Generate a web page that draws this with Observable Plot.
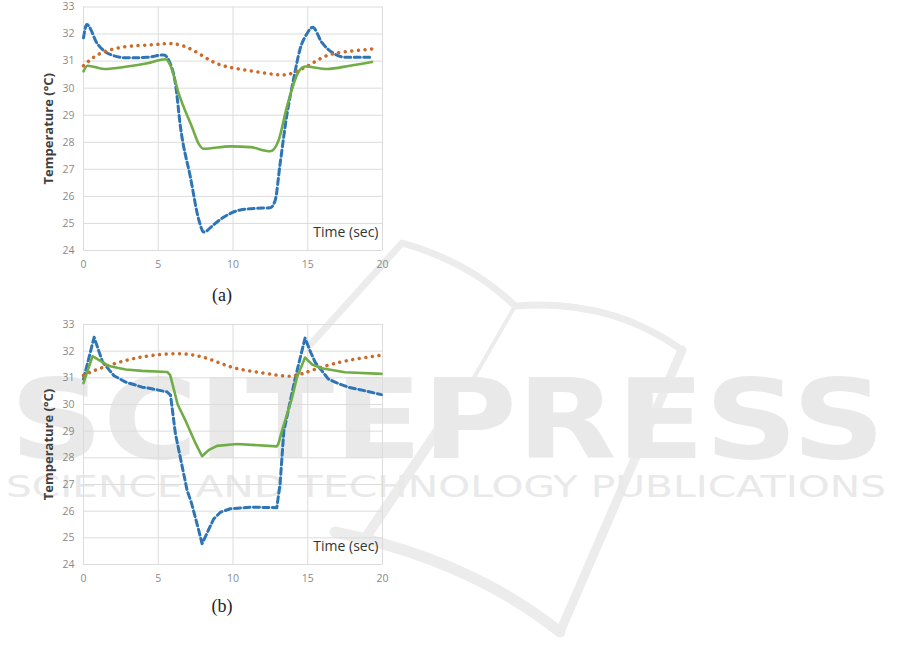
<!DOCTYPE html>
<html>
<head>
<meta charset="utf-8">
<script src="https://cdn.jsdelivr.net/npm/d3@7"></script>
<script src="https://cdn.jsdelivr.net/npm/@observablehq/plot@0.6"></script>
<style>
  html, body { margin: 0; padding: 0; background: #fff; }
  #page { position: relative; width: 901px; height: 668px; overflow: hidden; }
  #wm { position: absolute; left: 0; top: 0; z-index: 0; }
  .chart { position: absolute; left: 0; z-index: 1; }
  .chart svg { background: transparent !important; }
  .chart g[aria-label="y-axis label"] text { font-weight: bold; font-size: 13px; fill: #404040; }
  .cap { position: absolute; z-index: 2; width: 60px; text-align: center; font-family: "Liberation Serif", serif; font-size: 18px; color: #222; }
</style>
</head>
<body>
<div id="page">
  <svg id="wm" width="901" height="668">
    <g fill="none" stroke="#ececec" stroke-linecap="round" stroke-linejoin="round">
      <path d="M310 345 L402 243 Q470 262 515 306 Q610 298 682 350" stroke-width="7"/>
      <path d="M682 350 L560 632" stroke-width="9"/>
      <path d="M560 632 Q470 560 335 532" stroke-width="11"/>
      <path d="M515 306 L468 388" stroke-width="4"/>
      <path d="M445 420 L366 537" stroke-width="10"/>
    </g>
    <text x="10" y="458" textLength="875" lengthAdjust="spacingAndGlyphs" font-family="DejaVu Sans" font-weight="bold" font-size="110" fill="#e9e9e9">SCITEPRESS</text>
    <text x="6" y="497" textLength="880" lengthAdjust="spacingAndGlyphs" font-family="DejaVu Sans" font-size="30" fill="#e9e9e9">SCIENCE AND TECHNOLOGY PUBLICATIONS</text>
  </svg>
  <div id="chartA" class="chart" style="top:0px"></div>
  <div id="chartB" class="chart" style="top:318px"></div>
  <div class="cap" style="left:192px; top:285px">(a)</div>
  <div class="cap" style="left:192px; top:596px">(b)</div>
</div>
<script>
// ---- tick values ----
const xTicks = [0, 5, 10, 15, 20];
const yTicks = [24, 25, 26, 27, 28, 29, 30, 31, 32, 33];
const yLabel = "Temperature (°C)";
const xLabel = "Time (sec)";

// ---- chart (a) ----
const aBlueTime = [0, 0.22, 0.93, 1.82, 2.93, 4.27, 5.37, 5.71, 6.15, 6.49, 7.15, 7.73, 8.04, 8.7, 9.37, 10.49, 11.6, 12.49, 12.82, 13.15, 13.6, 14.04, 14.49, 14.93, 15.33, 15.93, 16.71, 17.6, 19.3];
const aBlueTemp = [31.86, 32.35, 31.64, 31.24, 31.12, 31.14, 31.23, 31.02, 30.16, 28.55, 26.71, 25.1, 24.68, 24.95, 25.23, 25.5, 25.56, 25.58, 25.85, 27.2, 29.0, 30.3, 31.45, 32.0, 32.25, 31.7, 31.29, 31.14, 31.14];
const aGreenTime = [0, 0.27, 1.38, 2.93, 4.27, 5.49, 5.82, 6.4, 7.27, 7.7, 8.04, 9.82, 11.15, 12.49, 13.04, 13.6, 14.37, 14.82, 16.27, 17.82, 19.3];
const aGreenTemp = [30.62, 30.83, 30.71, 30.8, 30.92, 31.07, 30.83, 29.75, 28.55, 27.95, 27.76, 27.85, 27.82, 27.67, 28.06, 29.3, 30.59, 30.8, 30.71, 30.83, 30.97];
const aOrangeTime = [0, 1.15, 2.93, 4.71, 6.04, 7.37, 8.71, 10.27, 12.49, 13.6, 14.27, 15.15, 16.27, 17.6, 19.3];
const aOrangeTemp = [30.83, 31.29, 31.54, 31.61, 31.64, 31.39, 30.96, 30.72, 30.53, 30.5, 30.62, 30.87, 31.2, 31.35, 31.45];

// ---- chart (b) ----
const bBlueTime = [0, 0.71, 1.27, 1.71, 2.04, 2.82, 3.93, 4.49, 5.6, 5.82, 6.15, 6.93, 7.2, 7.7, 7.93, 8.2, 8.49, 8.71, 9.16, 9.82, 11.15, 12.93, 13.15, 13.4, 14.15, 14.82, 15.2, 15.49, 16.37, 17.0, 17.7, 18.71, 19.93];
const bBlueTemp = [30.95, 32.52, 31.6, 31.3, 31.08, 30.84, 30.65, 30.6, 30.47, 30.35, 28.9, 26.78, 26.35, 25.3, 24.78, 25.1, 25.45, 25.71, 25.96, 26.09, 26.15, 26.13, 27.03, 29.0, 30.96, 32.49, 31.95, 31.59, 30.96, 30.8, 30.65, 30.53, 30.37];
const bGreenTime = [0, 0.6, 1.71, 2.82, 3.93, 5.6, 5.8, 6.3, 6.82, 7.49, 7.93, 8.4, 8.93, 10.27, 12.93, 13.04, 13.27, 13.93, 14.27, 14.82, 15.3, 15.93, 17.49, 19.93];
const bGreenTemp = [30.8, 31.81, 31.44, 31.31, 31.26, 31.22, 31.1, 30.0, 29.4, 28.55, 28.06, 28.3, 28.45, 28.52, 28.43, 28.53, 29.0, 30.21, 31.0, 31.76, 31.5, 31.36, 31.21, 31.15];
const bOrangeTime = [0, 1.04, 2.82, 4.6, 6.6, 8.37, 10.04, 11.93, 13.6, 14.6, 15.93, 17.7, 19.93];
const bOrangeTemp = [31.09, 31.34, 31.65, 31.84, 31.9, 31.71, 31.38, 31.19, 31.06, 31.15, 31.4, 31.65, 31.85];

const rows = (ts, vs) => ts.map((t, i) => ({t, v: vs[i]}));

function makeChart({blue, green, orange, height, marginTop, sharp}) {
  return Plot.plot({
    width: 400,
    height,
    marginLeft: 83,
    marginRight: 18,
    marginTop,
    marginBottom: 30,
    style: {background: "transparent", fontFamily: "'Open Sans', sans-serif", fontSize: "10.5px", color: "#8a8a8a"},
    x: {domain: [0, 20], ticks: xTicks, tickSize: 0, tickPadding: 10, label: null},
    y: {domain: [24, 33], ticks: yTicks, tickSize: 0, tickPadding: 9, label: yLabel, labelAnchor: "center", labelArrow: "none", labelOffset: 40},
    marks: [
      Plot.ruleY(yTicks, {stroke: "#dcdcdc", strokeWidth: 1}),
      Plot.ruleX(xTicks, {stroke: "#dcdcdc", strokeWidth: 1}),
      Plot.line(blue, {x: "t", y: "v", stroke: "#2e75b6", strokeWidth: 3, strokeDasharray: "6 3.5", curve: sharp ? "linear" : "monotone-x"}),
      Plot.line(orange, {x: "t", y: "v", stroke: "#cc6a2a", strokeWidth: 3.5, strokeDasharray: "0.01 6.6", strokeLinecap: "round", curve: "natural"}),
      Plot.line(green, {x: "t", y: "v", stroke: "#70ad47", strokeWidth: 2.6, curve: sharp ? "linear" : "monotone-x"}),
      Plot.text([xLabel], {text: d => d, frameAnchor: "bottom-right", textAnchor: "end", dx: -4, dy: -14, fontSize: 14, fill: "#333", fontFamily: "'Open Sans', sans-serif"})
    ]
  });
}

document.getElementById("chartA").append(makeChart({
  blue: rows(aBlueTime, aBlueTemp),
  green: rows(aGreenTime, aGreenTemp),
  orange: rows(aOrangeTime, aOrangeTemp),
  height: 280, marginTop: 6.5, sharp: false
}));
document.getElementById("chartB").append(makeChart({
  blue: rows(bBlueTime, bBlueTemp),
  green: rows(bGreenTime, bGreenTemp),
  orange: rows(bOrangeTime, bOrangeTemp),
  height: 276, marginTop: 6, sharp: true
}));
</script>
</body>
</html>
